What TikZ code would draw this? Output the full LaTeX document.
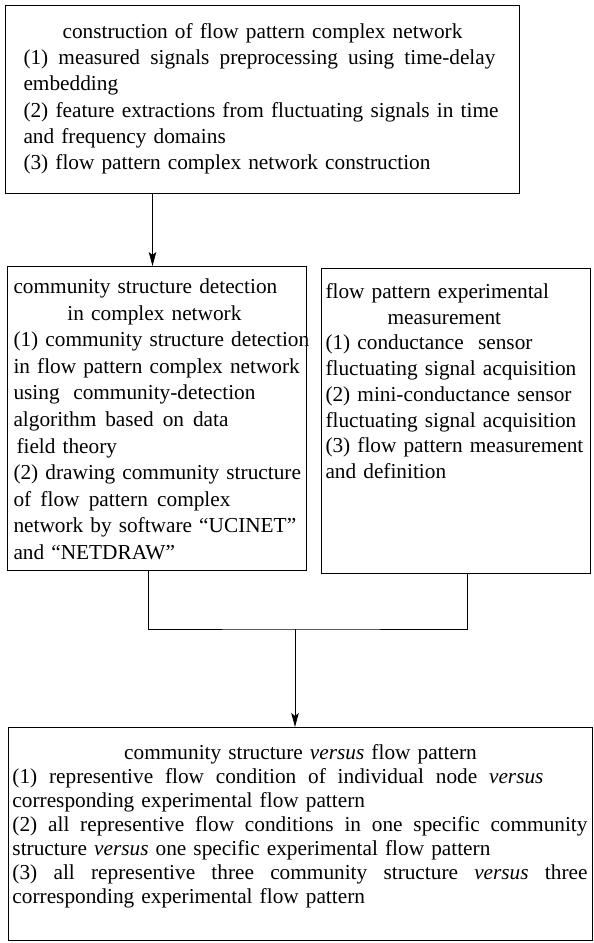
\documentclass[tikz,border=0pt]{standalone}
\usepackage{fontspec}
\setmainfont{Liberation Serif}
\usetikzlibrary{arrows.meta, positioning}

% a line whose word spaces are spread to a given width
\newcommand{\spreadline}[2]{\leavevmode\hbox to #1{\spaceskip=0.25em plus 1fil\relax #2}}

\tikzset{
  block/.style={draw, line width=1pt, anchor=north west, align=left, inner ysep=0pt},
  link/.style={line width=0.8pt},
  flow/.style={link, -{Stealth[length=14pt, width=7.5pt, inset=3pt]}}
}

\begin{document}
\begin{tikzpicture}[x=1pt, y=-1pt]
  \useasboundingbox (0,0) rectangle (594,943);

  % Construction of the network
  \node[block, text width=478pt, inner xsep=18pt, text height=33pt, text depth=155pt,
        font=\fontsize{21.3}{26.2}\selectfont] (cons) at (5,5) {%
    \makebox[478pt][c]{construction of flow pattern complex network}\\
    \spreadline{472pt}{(1) measured signals preprocessing using time-delay}\\
    embedding\\
    \spreadline{475pt}{(2) feature extractions from fluctuating signals in time}\\
    and frequency domains\\
    (3) flow pattern complex network construction};

  % Community detection
  \node[block, text width=287pt, inner xsep=6pt, text height=27pt, text depth=277pt,
        font=\fontsize{21.3}{26.6}\selectfont] (comm) at (7,266) {%
    community structure detection\\
    \hspace*{54pt}in complex network\\
    \mbox{(1) community structure detection}\\
    \mbox{in flow pattern complex network}\\
    \spreadline{242pt}{using community-detection}\\
    \spreadline{215pt}{algorithm based on data}\\
    \hspace*{3pt}field theory\\
    \mbox{(2) drawing community structure}\\
    \spreadline{217pt}{of flow pattern complex}\\
    \mbox{network by software “UCINET”}\\
    and “NETDRAW”};

  % Experimental measurement
  \node[block, text width=261pt, inner xsep=4pt, text height=30pt, text depth=275pt,
        font=\fontsize{21.3}{25.7}\selectfont] (meas) at (321,268) {%
    flow pattern experimental\\
    \hspace*{62pt}measurement\\
    \mbox{(1) conductance~~sensor}\\
    fluctuating signal acquisition\\
    \mbox{(2) mini-conductance sensor}\\
    fluctuating signal acquisition\\
    \mbox{(3) flow pattern measurement}\\
    and definition};

  % Comparison
  \node[block, text width=576pt, inner xsep=4pt, text height=32pt, text depth=181pt,
        font=\fontsize{21.3}{24}\selectfont] (comp) at (8,727) {%
    \makebox[576pt][c]{community structure \textit{versus} flow pattern}\\
    \spreadline{531pt}{(1) representive flow condition of individual node \textit{versus}}\\
    corresponding experimental flow pattern\\
    \spreadline{575pt}{(2) all representive flow conditions in one specific community}\\
    structure \textit{versus} one specific experimental flow pattern\\
    \spreadline{575pt}{(3) all representive three community structure \textit{versus} three}\\
    corresponding experimental flow pattern};

  % Arrows
  \draw[flow] ([xshift=-4.5pt]comm.north |- cons.south) -- ([xshift=-4.5pt]comm.north);
  \coordinate (merge) at (295,629);
  \draw[link] ([xshift=-8.5pt]comm.south) |- (merge) -| ([xshift=11.5pt]meas.south);
  \draw[flow] (merge) -- (merge |- comp.north);
\end{tikzpicture}
\end{document}
